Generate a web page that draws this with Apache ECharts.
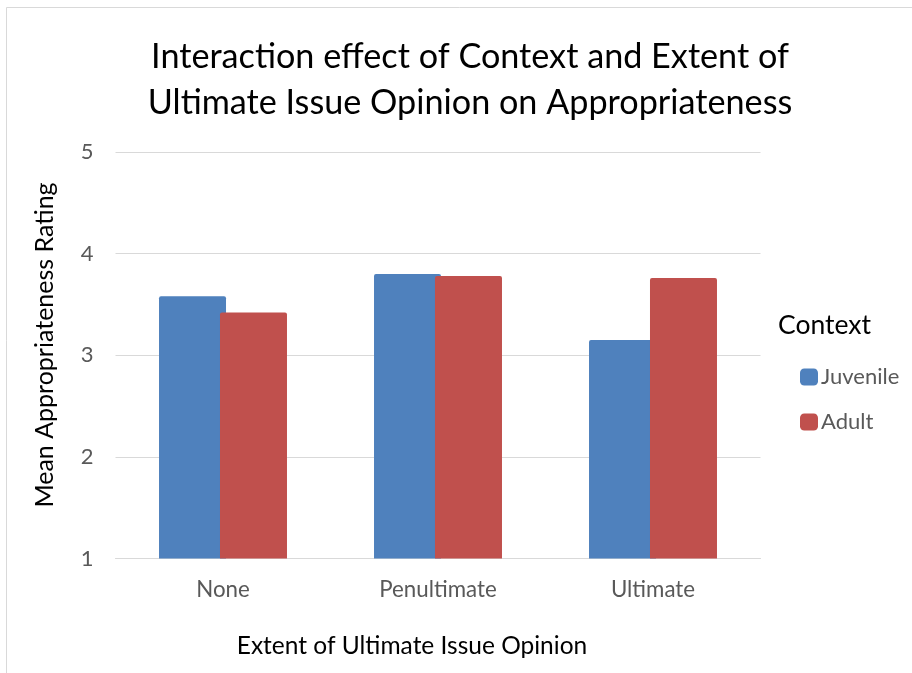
<!DOCTYPE html>
<html><head><meta charset="utf-8">
<script src="https://cdn.jsdelivr.net/npm/echarts@6/dist/echarts.min.js"></script>
<style>html,body{margin:0;padding:0;background:#fff}#c{width:912px;height:673px}</style>
</head><body><div id="c"></div>
<script>
const categories = ['None', 'Penultimate', 'Ultimate'];
const juvenile = [3.58, 3.80, 3.15];
const adult = [3.42, 3.78, 3.76];
const yTicks = [1, 2, 3, 4, 5];
const seriesNames = ['Juvenile', 'Adult'];

const FONT = 'Lato';
const chart = echarts.init(document.getElementById('c'), null, {renderer: 'canvas'});
chart.setOption({
  backgroundColor: '#fff',
  animation: false,
  textStyle: {fontFamily: FONT},
  title: {
    text: 'Interaction effect of Context and Extent of\nUltimate Issue Opinion on Appropriateness',
    left: 465, top: 29, textAlign: 'center',
    textStyle: {fontFamily: FONT, fontSize: 34.2, fontWeight: 'normal', color: '#000', lineHeight: 46}
  },
  grid: {left: 115.5, right: 151.5, top: 152, bottom: 114.5, containLabel: false},
  legend: {
    orient: 'vertical', left: 800, top: 366, padding: 0, itemWidth: 18, itemHeight: 17, itemGap: 23,
    icon: 'roundRect',
    data: seriesNames,
    textStyle: {fontFamily: FONT, fontSize: 22, color: '#595959', padding: [0,0,0,-2]}
  },
  xAxis: {
    type: 'category', data: categories,
    axisLine: {show: true, lineStyle: {color: '#d9d9d9', width: 1}},
    axisTick: {show: false},
    axisLabel: {fontFamily: FONT, fontSize: 22.3, color: '#595959', margin: 20}
  },
  yAxis: {
    type: 'value', min: yTicks[0], max: yTicks[yTicks.length - 1], interval: 1,
    axisLine: {show: false}, axisTick: {show: false},
    splitLine: {lineStyle: {color: '#d9d9d9', width: 1}},
    axisLabel: {fontFamily: FONT, fontSize: 22, color: '#595959', margin: 22}
  },
  series: [
    {name: seriesNames[0], type: 'bar', data: juvenile, barWidth: 67, barGap: '-9%',
     itemStyle: {color: '#4F81BD', borderRadius: [2,2,0,0]}},
    {name: seriesNames[1], type: 'bar', data: adult, barWidth: 67, barGap: '-9%',
     itemStyle: {color: '#C0504D', borderRadius: [2,2,0,0]}}
  ],
  graphic: [
    {type: 'rect', shape: {x: 6.5, y: 7.5, width: 1000, height: 1000}, style: {fill: 'none', stroke: '#d9d9d9', lineWidth: 1}, silent: true},
    {type: 'text', x: 412, y: 646, style: {text: 'Extent of Ultimate Issue Opinion', fontFamily: FONT, fontSize: 24.5, fill: '#000', align: 'center', verticalAlign: 'middle'}},
    {type: 'text', x: 45, y: 345, rotation: Math.PI / 2, style: {text: 'Mean Appropriateness Rating', fontFamily: FONT, fontSize: 25, fill: '#000', align: 'center', verticalAlign: 'middle'}},
    {type: 'text', x: 778, y: 325, style: {text: 'Context', fontFamily: FONT, fontSize: 26.5, fill: '#000', align: 'left', verticalAlign: 'middle'}}
  ]
});
</script></body></html>
